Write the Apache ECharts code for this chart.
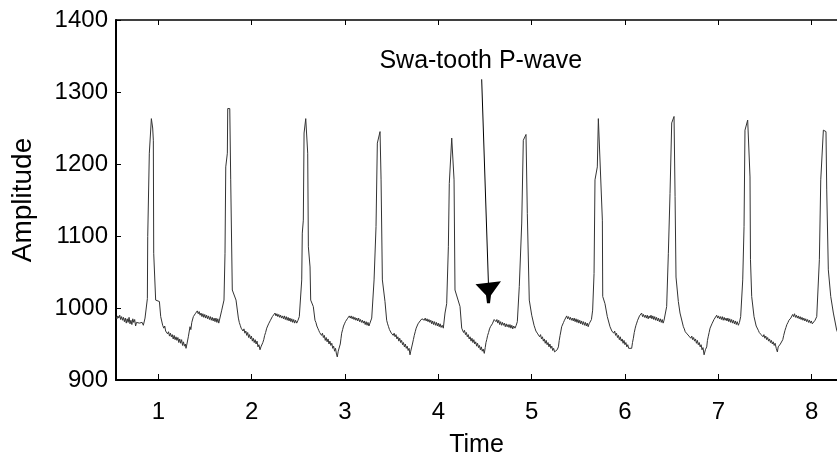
<!DOCTYPE html>
<html>
<head>
<meta charset="utf-8">
<title>Swa-tooth P-wave</title>
<script src="https://cdn.jsdelivr.net/npm/echarts@6/dist/echarts.min.js"></script>
<style>
    html, body { margin: 0; padding: 0; background: #fff; }
    #main { width: 837px; height: 455px; }
</style>
</head>
<body>
<div id="main"></div>
<script>
var times = [
    0.546, 0.556, 0.566, 0.576, 0.586, 0.596, 0.606, 0.616, 0.626, 0.636, 0.646, 0.656, 0.666, 0.676, 0.686, 0.696,
    0.706, 0.716, 0.726, 0.736, 0.746, 0.756, 0.766, 0.776, 0.786, 0.796, 0.806, 0.816, 0.826, 0.839, 0.857,
    0.882, 0.886, 0.903, 0.925, 0.939, 0.946, 0.950, 0.971, 1.011, 1.025, 1.046,
    1.058, 1.068, 1.078, 1.089, 1.099, 1.109, 1.119, 1.129, 1.139, 1.149, 1.159, 1.169, 1.179, 1.189, 1.199, 1.209,
    1.219, 1.229, 1.239, 1.249, 1.259, 1.269, 1.279, 1.289, 1.296,
    1.306, 1.321, 1.330, 1.339, 1.348, 1.358, 1.368, 1.375, 1.385, 1.395, 1.405, 1.417,
    1.427, 1.437, 1.447, 1.457, 1.467, 1.477, 1.487, 1.497, 1.507, 1.517, 1.527, 1.537, 1.547, 1.557, 1.567, 1.577,
    1.587, 1.597, 1.607, 1.617, 1.627, 1.637, 1.647, 1.661,
    1.679, 1.703, 1.714, 1.722, 1.739, 1.743, 1.765, 1.775, 1.792, 1.832, 1.857,
    1.867, 1.877, 1.887, 1.897, 1.907, 1.917, 1.927, 1.937, 1.947, 1.957, 1.967, 1.977, 1.987, 1.997, 2.007, 2.017,
    2.027, 2.037, 2.047, 2.057, 2.067, 2.077, 2.089,
    2.099, 2.109, 2.119, 2.129, 2.139, 2.149, 2.161, 2.171, 2.181, 2.191, 2.201, 2.211, 2.221, 2.235, 2.250,
    2.260, 2.270, 2.280, 2.290, 2.300, 2.310, 2.320, 2.330, 2.340, 2.350, 2.360, 2.370, 2.380, 2.390, 2.400, 2.410,
    2.420, 2.430, 2.440, 2.450, 2.460, 2.470, 2.482, 2.496, 2.510,
    2.536, 2.542, 2.553, 2.561, 2.579, 2.600, 2.607, 2.625, 2.632, 2.660, 2.678,
    2.688, 2.698, 2.708, 2.718, 2.728, 2.738, 2.748, 2.758, 2.768, 2.778, 2.788, 2.798, 2.808, 2.818, 2.828, 2.838,
    2.848, 2.858, 2.868, 2.878, 2.888, 2.898, 2.908, 2.917, 2.927, 2.939,
    2.949, 2.957, 2.964, 2.974, 2.984, 2.994, 3.004, 3.014, 3.024, 3.034, 3.046,
    3.056, 3.066, 3.076, 3.086, 3.096, 3.106, 3.116, 3.126, 3.136, 3.146, 3.156, 3.166, 3.176, 3.186, 3.196, 3.206,
    3.216, 3.226, 3.236, 3.246, 3.256, 3.268, 3.286,
    3.311, 3.332, 3.346, 3.375, 3.386, 3.400, 3.428, 3.446,
    3.456, 3.466, 3.476, 3.486, 3.496, 3.506, 3.516, 3.526, 3.536, 3.546, 3.556, 3.566, 3.576, 3.586, 3.596, 3.606,
    3.616, 3.626, 3.636, 3.646, 3.656, 3.666, 3.676, 3.686, 3.696, 3.704, 3.713,
    3.722, 3.732, 3.742, 3.752, 3.762, 3.772, 3.782, 3.792, 3.804, 3.814, 3.824, 3.839,
    3.849, 3.859, 3.869, 3.879, 3.889, 3.899, 3.909, 3.919, 3.929, 3.939, 3.949, 3.959, 3.969, 3.979, 3.989, 3.999,
    4.009, 4.019, 4.029, 4.041, 4.053,
    4.071, 4.089, 4.107, 4.117, 4.143, 4.160, 4.168, 4.178, 4.232, 4.250,
    4.260, 4.270, 4.280, 4.290, 4.300, 4.310, 4.320, 4.330, 4.340, 4.350, 4.360, 4.370, 4.380, 4.390, 4.400, 4.410,
    4.420, 4.430, 4.440, 4.450, 4.460, 4.470, 4.480, 4.492,
    4.502, 4.510, 4.518, 4.528, 4.538, 4.548, 4.558, 4.568, 4.578, 4.588, 4.598, 4.607,
    4.617, 4.627, 4.637, 4.647, 4.657, 4.667, 4.677, 4.687, 4.697, 4.707, 4.717, 4.727, 4.737, 4.747, 4.757, 4.767,
    4.777, 4.787, 4.797, 4.807, 4.821, 4.834, 4.846,
    4.867, 4.893, 4.910, 4.939, 4.953, 4.974, 5.000, 5.025,
    5.035, 5.045, 5.055, 5.065, 5.075, 5.085, 5.095, 5.105, 5.115, 5.125, 5.135, 5.145, 5.155, 5.165, 5.175, 5.185,
    5.195, 5.205, 5.215, 5.225, 5.235, 5.245, 5.261,
    5.273, 5.286, 5.295, 5.304, 5.313, 5.321, 5.331, 5.341, 5.351, 5.361, 5.375,
    5.385, 5.395, 5.405, 5.415, 5.425, 5.435, 5.445, 5.455, 5.465, 5.475, 5.485, 5.495, 5.505, 5.515, 5.525, 5.535,
    5.545, 5.555, 5.565, 5.575, 5.585, 5.595, 5.605, 5.615, 5.625, 5.640, 5.653,
    5.668, 5.678, 5.703, 5.714, 5.732, 5.757, 5.761, 5.785, 5.810, 5.839,
    5.849, 5.859, 5.869, 5.879, 5.889, 5.899, 5.909, 5.919, 5.929, 5.939, 5.949, 5.959, 5.969, 5.979, 5.989, 5.999,
    6.009, 6.019, 6.029, 6.039, 6.055, 6.071,
    6.080, 6.089, 6.099, 6.109, 6.117, 6.125, 6.135, 6.145, 6.155, 6.165, 6.178,
    6.188, 6.198, 6.208, 6.218, 6.228, 6.238, 6.248, 6.258, 6.268, 6.278, 6.288, 6.298, 6.308, 6.318, 6.328, 6.338,
    6.348, 6.358, 6.368, 6.378, 6.388, 6.398, 6.408, 6.418, 6.428, 6.446,
    6.464, 6.482, 6.500, 6.525, 6.536, 6.546, 6.571, 6.589, 6.625,
    6.635, 6.645, 6.655, 6.665, 6.675, 6.685, 6.695, 6.705, 6.715, 6.725, 6.735, 6.745, 6.755, 6.765, 6.775, 6.785,
    6.795, 6.805, 6.815, 6.825, 6.835, 6.847,
    6.861, 6.875, 6.883, 6.891, 6.901, 6.911, 6.921, 6.931, 6.943, 6.953, 6.963, 6.982,
    6.992, 7.002, 7.012, 7.022, 7.032, 7.042, 7.052, 7.062, 7.072, 7.082, 7.092, 7.102, 7.112, 7.122, 7.132, 7.142,
    7.152, 7.162, 7.172, 7.182, 7.192, 7.202, 7.214, 7.226, 7.239,
    7.261, 7.275, 7.285, 7.314, 7.339, 7.344, 7.357, 7.382, 7.405, 7.428,
    7.438, 7.448, 7.458, 7.468, 7.478, 7.488, 7.498, 7.508, 7.518, 7.528, 7.538, 7.548, 7.558, 7.568, 7.578, 7.588,
    7.598, 7.608, 7.620, 7.632, 7.641, 7.650, 7.664, 7.679,
    7.690, 7.700, 7.714, 7.724, 7.734, 7.746, 7.756, 7.766, 7.776, 7.786,
    7.796, 7.806, 7.816, 7.826, 7.836, 7.846, 7.856, 7.866, 7.876, 7.886, 7.896, 7.906, 7.916, 7.926, 7.936, 7.946,
    7.956, 7.966, 7.976, 7.986, 7.996, 8.006, 8.018, 8.036, 8.054,
    8.082, 8.097, 8.125, 8.153, 8.161, 8.178, 8.204, 8.232, 8.268, 8.282
];
var amps = [
    988, 985, 989, 986, 990, 984, 988, 983, 987, 981, 986, 979, 985, 980, 987, 978,
    983, 977, 985, 980, 984, 975, 980, 978, 982, 979, 981, 978, 980, 976, 986,
    1013, 1099, 1215, 1263, 1250, 1233, 1076, 1011, 1009, 988, 976,
    972, 975, 968, 969, 964, 967, 961, 965, 960, 963, 957, 962, 956, 960, 955, 959,
    952, 957, 951, 956, 948, 953, 947, 950, 944,
    950, 960, 958, 974, 970, 980, 978, 988, 986, 992, 990, 996,
    992, 995, 990, 993, 988, 992, 987, 991, 986, 990, 985, 989, 984, 988, 983, 987,
    982, 986, 981, 986, 980, 985, 979, 981,
    997, 1011, 1076, 1196, 1215, 1277, 1277, 1178, 1025, 1011, 986,
    980, 976, 972, 974, 968, 971, 965, 968, 962, 966, 959, 963, 957, 961, 954, 958,
    952, 956, 950, 954, 946, 949, 942,
    946, 944, 952, 956, 962, 966, 972, 970, 978, 977, 983, 982, 988, 990, 993,
    989, 992, 988, 991, 987, 990, 986, 989, 985, 989, 984, 988, 983, 987, 982, 986,
    981, 985, 980, 984, 979, 983, 979, 983, 988,
    1039, 1104, 1122, 1243, 1263, 1215, 1085, 1057, 1011, 1002, 983,
    980, 975, 972, 969, 966, 968, 962, 965, 959, 962, 955, 959, 953, 957, 950, 954,
    948, 951, 944, 947, 940, 944, 936, 932, 940, 942,
    950, 958, 965, 970, 975, 978, 981, 980, 985, 984, 989,
    986, 989, 985, 988, 984, 987, 983, 986, 982, 986, 981, 984, 980, 983, 979, 982,
    977, 981, 976, 980, 975, 976, 986,
    1039, 1113, 1229, 1245, 1178, 1039, 1009, 983,
    978, 974, 970, 968, 965, 967, 962, 965, 960, 963, 957, 960, 954, 958, 952, 955,
    949, 952, 946, 950, 944, 947, 941, 944, 935, 940, 942,
    950, 956, 962, 967, 972, 974, 978, 979, 982, 981, 985, 986,
    983, 986, 982, 985, 981, 984, 980, 983, 978, 982, 977, 981, 976, 980, 975, 979,
    974, 978, 973, 976, 972,
    993, 1006, 1085, 1173, 1236, 1238, 1178, 1025, 1002, 972,
    970, 966, 969, 963, 966, 960, 963, 957, 960, 954, 958, 952, 956, 950, 953, 947,
    951, 945, 948, 942, 946, 940, 943, 937,
    945, 952, 956, 962, 966, 971, 974, 973, 978, 979, 984, 986,
    981, 984, 979, 983, 977, 981, 976, 980, 976, 979, 974, 978, 974, 977, 973, 977,
    972, 976, 971, 975, 972, 976, 981,
    1030, 1118, 1233, 1241, 1131, 1011, 990, 976,
    972, 968, 970, 964, 966, 960, 963, 957, 960, 954, 957, 951, 955, 949, 952, 946,
    950, 944, 947, 941, 944, 939, 937,
    942, 946, 955, 962, 968, 974, 976, 980, 983, 985, 989,
    985, 988, 984, 987, 983, 986, 982, 986, 981, 985, 980, 984, 979, 983, 978, 982,
    977, 981, 976, 980, 975, 979, 974, 978, 976, 984, 997,
    1048, 1178, 1196, 1263, 1263, 1122, 1016, 1006, 988, 974,
    972, 968, 970, 965, 968, 962, 965, 959, 962, 956, 960, 954, 957, 951, 955, 949,
    952, 946, 949, 944, 946, 944,
    952, 958, 966, 972, 976, 979, 983, 985, 989, 990, 993,
    988, 991, 987, 990, 986, 990, 985, 989, 986, 990, 985, 989, 984, 988, 983, 987,
    982, 986, 981, 985, 980, 984, 979, 983, 981, 1002,
    1076, 1159, 1257, 1266, 1155, 1043, 1009, 993, 974,
    971, 967, 969, 964, 966, 961, 963, 958, 961, 956, 959, 954, 957, 951, 955, 949,
    952, 946, 949, 942, 945, 935,
    942, 946, 955, 960, 966, 972, 975, 978, 980, 984, 985, 990,
    986, 989, 985, 988, 984, 988, 983, 987, 983, 986, 982, 986, 981, 985, 980, 984,
    979, 983, 978, 982, 977, 981, 976, 980, 988,
    1039, 1113, 1247, 1261, 1182, 1067, 1016, 988, 975, 969,
    966, 968, 963, 965, 960, 963, 958, 961, 956, 959, 954, 957, 952, 955, 950, 953,
    948, 951, 944, 939, 946, 944, 950, 949,
    956, 962, 969, 973, 977, 980, 983, 985, 986, 988,
    991, 988, 992, 987, 990, 986, 989, 985, 988, 984, 987, 983, 986, 982, 985, 981,
    984, 980, 983, 979, 982, 978, 979, 983, 988,
    1067, 1178, 1247, 1245, 1164, 1053, 1016, 993, 969, 965
];
var xTicks = [1, 2, 3, 4, 5, 6, 7, 8];
var noteText = 'Swa-tooth P-wave';
var notePoint = [4.537, 1006.5];   // arrow tip
var noteStart = [4.464, 1317.6];   // arrow tail
var noteLabel = [4.455, 1343];     // text centre

var data = times.map(function (t, i) { return [t, amps[i]]; });

var font = 'Arial, "Liberation Sans", sans-serif';

var myChart = echarts.init(document.getElementById('main'));

var option = {
    animation: false,
    backgroundColor: '#fff',
    grid: { left: 116, right: 0, top: 20, bottom: 75, outerBoundsMode: 'none', containLabel: false },
    xAxis: [
        {
            type: 'value',
            min: 0.546,
            max: 8.271,
            name: 'Time',
            nameLocation: 'middle',
            nameGap: 53,
            nameTextStyle: { fontFamily: font, fontSize: 25, color: '#000' },
            axisLine: { lineStyle: { color: '#000', width: 2 } },
            axisTick: { inside: true, length: 6, customValues: xTicks, lineStyle: { color: '#000' } },
            axisLabel: { customValues: xTicks, margin: 20, fontFamily: font, fontSize: 24, color: '#000' },
            splitLine: { show: false }
        },
        {
            type: 'value',
            position: 'top',
            min: 0.546,
            max: 8.271,
            axisLine: { lineStyle: { color: '#000', width: 1.5 } },
            axisTick: { inside: true, length: 5, customValues: xTicks, lineStyle: { color: '#000' } },
            axisLabel: { show: false },
            splitLine: { show: false }
        }
    ],
    yAxis: {
        type: 'value',
        min: 900,
        max: 1400,
        interval: 100,
        name: 'Amplitude',
        nameLocation: 'middle',
        nameRotate: 90,
        nameGap: 79,
        nameTextStyle: { fontFamily: font, fontSize: 28, color: '#000' },
        axisLine: { show: true, lineStyle: { color: '#000', width: 2 } },
        axisTick: { show: true, inside: true, length: 5, lineStyle: { color: '#000' } },
        axisLabel: {
            margin: 8, fontFamily: font, fontSize: 24, color: '#000',
            formatter: function (v) { return String(v); }
        },
        splitLine: { show: false }
    },
    series: [
        {
            type: 'line',
            data: data,
            showSymbol: false,
            clip: true,
            lineStyle: { color: '#333', width: 1 }
        }
    ]
};

myChart.setOption(option);

// annotation arrow
var tip = myChart.convertToPixel({ gridIndex: 0 }, notePoint);
var tail = myChart.convertToPixel({ gridIndex: 0 }, noteStart);
var lab = myChart.convertToPixel({ gridIndex: 0 }, noteLabel);

myChart.setOption({
    graphic: [
        {
            type: 'text',
            x: lab[0], y: lab[1],
            style: {
                text: noteText, fontFamily: font, fontSize: 25, fill: '#000',
                align: 'center', verticalAlign: 'middle'
            }
        },
        {
            type: 'line',
            shape: { x1: tail[0], y1: tail[1], x2: tip[0], y2: tip[1] - 18 },
            style: { stroke: '#000', lineWidth: 1 }
        },
        {
            type: 'polygon',
            shape: {
                points: [
                    [tip[0] - 13, tip[1] - 19], [tip[0] + 12.5, tip[1] - 22],
                    [tip[0] + 2.5, tip[1] - 8], [tip[0] + 1.5, tip[1]],
                    [tip[0] - 1.5, tip[1]], [tip[0] - 2.5, tip[1] - 8]
                ]
            },
            style: { fill: '#000' }
        }
    ]
});
</script>
</body>
</html>
